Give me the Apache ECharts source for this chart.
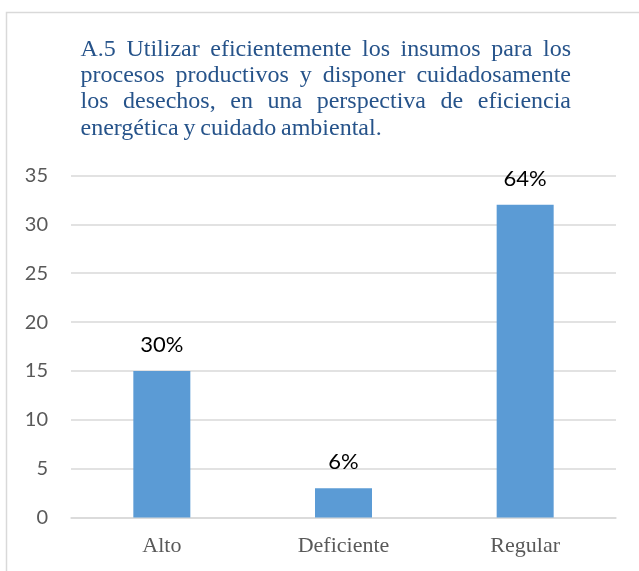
<!DOCTYPE html>
<html>
<head>
<meta charset="utf-8">
<script src="https://cdn.jsdelivr.net/npm/echarts@6/dist/echarts.min.js"></script>
<style>
  html, body { margin: 0; padding: 0; background: #fff; }
  #chart { width: 639px; height: 571px; }
</style>
</head>
<body>
<div id="chart"></div>
<script>
const titleLines = [
  'A.5 Utilizar eficientemente los insumos para los',
  'procesos productivos y disponer cuidadosamente',
  'los desechos, en una perspectiva de eficiencia',
  'energética y cuidado ambiental.'
]
const categories = ['Alto', 'Deficiente', 'Regular']
const counts = [15, 3, 32]
const percentLabels = ['30%', '6%', '64%']
const yMin = 0
const yMax = 35
const yStep = 5

const TITLE_FONT = "24px 'Liberation Serif'"
const TITLE_COLOR = '#26538a'
const GRAY = '#595959'
const LINE = '#d9d9d9'

// justified title, one text element per word (last line left as is)
function titleGraphics (left, right, firstY, lineGap) {
  const ctx = document.createElement('canvas').getContext('2d')
  ctx.font = TITLE_FONT
  const out = []
  titleLines.forEach((line, i) => {
    const words = line.split(' ')
    const widths = words.map(w => ctx.measureText(w).width)
    const total = widths.reduce((a, b) => a + b, 0)
    const isLast = i === titleLines.length - 1
    const gap = isLast ? ctx.measureText(' ').width * 0.8 : (right - left - total) / (words.length - 1)
    let x = left
    words.forEach((w, j) => {
      out.push({
        type: 'text',
        x: x,
        y: firstY + i * lineGap,
        style: { text: w, font: TITLE_FONT, fill: TITLE_COLOR, verticalAlign: 'middle' }
      })
      x += widths[j] + gap
    })
  })
  return out
}

const chart = echarts.init(document.getElementById('chart'))
chart.setOption({
  animation: false,
  graphic: [
    {
      type: 'rect',
      shape: { x: 6.5, y: 12.5, width: 700, height: 700 },
      style: { fill: 'none', stroke: LINE, lineWidth: 1.5 },
      silent: true
    },
    ...titleGraphics(80.5, 571, 49.5, 26.3)
  ],
  grid: { left: 71, right: 23, top: 175.5, bottom: 53.5 },
  xAxis: {
    type: 'category',
    data: categories,
    axisLine: { show: true, lineStyle: { color: LINE, width: 1.5 } },
    axisTick: { show: false },
    axisLabel: { fontFamily: 'Liberation Serif', fontSize: 22, color: GRAY, margin: 18 }
  },
  yAxis: {
    type: 'value',
    min: yMin,
    max: yMax,
    interval: yStep,
    axisLine: { show: false },
    axisTick: { show: false },
    axisLabel: { fontFamily: 'Lato', fontSize: 20, color: GRAY, margin: 23 },
    splitLine: { lineStyle: { color: LINE, width: 1.5 } }
  },
  series: [
    {
      type: 'bar',
      data: counts,
      barWidth: 57,
      itemStyle: { color: '#5b9bd5' },
      label: {
        show: true,
        position: 'top',
        distance: 15,
        formatter: p => percentLabels[p.dataIndex],
        fontFamily: 'Lato',
        fontSize: 22,
        color: '#000'
      }
    }
  ]
})
</script>
</body>
</html>
